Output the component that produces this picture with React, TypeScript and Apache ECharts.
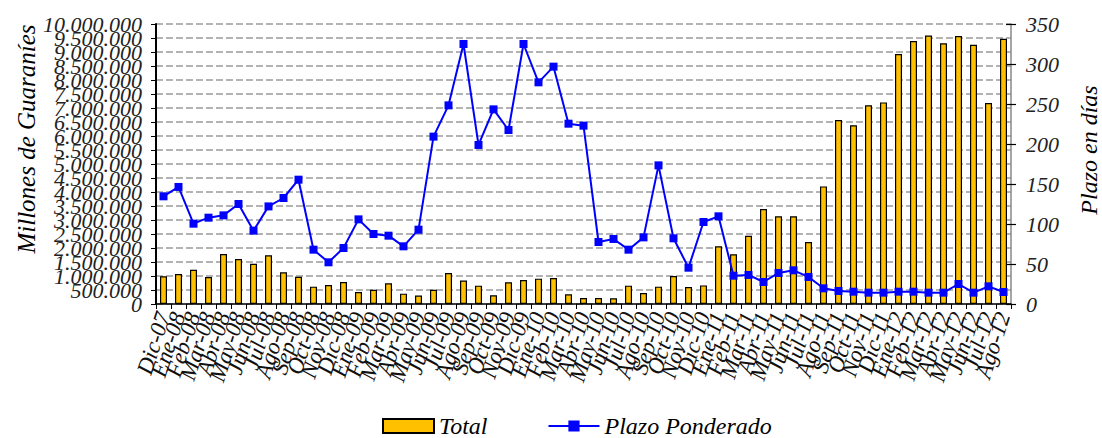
import React, { useEffect, useRef } from "react";
import * as echarts from "echarts";

const categories = [
  "Dic-07",
  "Ene-08", "Feb-08", "Mar-08", "Abr-08", "May-08", "Jun-08", "Jul-08", "Ago-08", "Sep-08", "Oct-08", "Nov-08", "Dic-08",
  "Ene-09", "Feb-09", "Mar-09", "Abr-09", "May-09", "Jun-09", "Jul-09", "Ago-09", "Sep-09", "Oct-09", "Nov-09", "Dic-09",
  "Ene-10", "Feb-10", "Mar-10", "Abr-10", "May-10", "Jun-10", "Jul-10", "Ago-10", "Sep-10", "Oct-10", "Nov-10", "Dic-10",
  "Ene-11", "Feb-11", "Mar-11", "Abr-11", "May-11", "Jun-11", "Jul-11", "Ago-11", "Sep-11", "Oct-11", "Nov-11", "Dic-11",
  "Ene-12", "Feb-12", "Mar-12", "Abr-12", "May-12", "Jun-12", "Jul-12", "Ago-12",
];

const totalValues = [
  990000,
  1070000, 1225000, 965000, 1785000, 1605000, 1440000, 1740000, 1130000, 975000, 620000, 680000, 785000,
  430000, 510000, 740000, 370000, 300000, 510000, 1105000, 835000, 655000, 310000, 775000, 855000,
  905000, 930000, 345000, 215000, 212000, 202000, 655000, 395000, 620000, 1000000, 605000, 665000,
  2060000, 1775000, 2440000, 3395000, 3130000, 3130000, 2215000, 4200000, 6570000, 6380000, 7095000, 7200000,
  8930000, 9395000, 9585000, 9310000, 9570000, 9260000, 7180000, 9475000,
];

const plazoValues = [
  134.6,
  146.3, 100.4, 107.9, 110.8, 125, 91.7, 122, 132.5, 155.4, 67.9, 52.1, 70,
  105.8, 87.5, 85.4, 72.1, 92.9, 209.2, 248.3, 325, 198.8, 243.3, 217.5, 325,
  277.1, 296.7, 225.4, 222.9, 77.5, 81.3, 67.9, 83.3, 173.3, 82.1, 45.4, 102.5,
  109.6, 35.4, 36.3, 27.5, 38.8, 42.1, 33.8, 19.6, 16.3, 15.4, 14.2, 14.2,
  15.4, 15.4, 14.2, 14.2, 25, 14.2, 22.1, 15,
];

const leftMax = 10000000;
const leftInterval = 500000;
const rightMax = 350;
const rightInterval = 50;

const FONT = "'Liberation Serif', 'DejaVu Serif', serif";

function fmtThousands(v: number): string {
  return String(Math.round(v)).replace(/\B(?=(\d{3})+(?!\d))/g, ".");
}

const leftLabelStyle = {
  margin: 14,
  fontFamily: FONT,
  fontStyle: "italic",
  fontSize: 22,
  color: "#222",
};

export default function App() {
  const ref = useRef<HTMLDivElement>(null);

  useEffect(() => {
    document.body.style.margin = "0";
    if (!ref.current) return;
    const chart = echarts.init(ref.current, undefined, { renderer: "svg" });
    chart.setOption({
      animation: false,
      backgroundColor: "#ffffff",
      textStyle: { fontFamily: FONT },
      grid: { left: 156, right: 91, top: 24, bottom: 134, containLabel: false },
      legend: {
        left: 382,
        top: 414,
        padding: 0,
        itemGap: 60,
        itemWidth: 51,
        itemHeight: 14,
        textStyle: { fontFamily: FONT, fontStyle: "italic", fontSize: 24, lineHeight: 24, color: "#000" },
        data: [
          { name: "Total", icon: "rect" },
          { name: "Plazo Ponderado" },
        ],
      },
      xAxis: {
        type: "category",
        data: categories,
        boundaryGap: true,
        axisLine: { lineStyle: { color: "#000", width: 1.5 } },
        axisTick: { show: true, length: 5, lineStyle: { color: "#000" } },
        axisLabel: {
          interval: 0,
          rotate: 72,
          margin: 9,
          fontFamily: FONT,
          fontStyle: "italic",
          fontSize: 23,
          color: "#111",
        },
      },
      yAxis: [
        {
          // left axis: labels at whole millions
          type: "value",
          position: "left",
          min: 0,
          max: leftMax,
          interval: leftInterval * 2,
          axisLine: { show: true, lineStyle: { color: "#000", width: 2 } },
          axisTick: { show: true, length: 5, lineStyle: { color: "#000" } },
          splitLine: { show: false },
          axisLabel: {
            ...leftLabelStyle,
            showMinLabel: true,
            showMaxLabel: true,
            formatter: (v: number) => fmtThousands(v),
          },
        },
        {
          type: "value",
          position: "right",
          min: 0,
          max: rightMax,
          interval: rightInterval,
          axisLine: { show: true, lineStyle: { color: "#888", width: 1.5 } },
          axisTick: { show: true, length: 5, lineStyle: { color: "#000", width: 1.2 } },
          splitLine: { show: false },
          axisLabel: {
            margin: 15,
            showMinLabel: true,
            showMaxLabel: true,
            fontFamily: FONT,
            fontStyle: "italic",
            fontSize: 22,
            color: "#222",
          },
        },
        {
          type: "value",
          position: "right",
          min: 0,
          max: rightMax,
          interval: rightInterval,
          axisLine: { show: false },
          axisTick: { show: true, inside: true, length: 5, lineStyle: { color: "#000", width: 1.2 } },
          splitLine: { show: false },
          axisLabel: { show: false },
        },
        {
          // left axis: half-million labels, ticks and grid lines
          type: "value",
          position: "left",
          min: 0,
          max: leftMax,
          interval: leftInterval,
          axisLine: { show: false },
          axisTick: { show: true, length: 5, lineStyle: { color: "#000" } },
          splitLine: { show: true, lineStyle: { color: "#9a9a9a", width: 1.5, type: [7, 3] } },
          axisLabel: {
            ...leftLabelStyle,
            showMinLabel: false,
            showMaxLabel: false,
            formatter: (v: number) => (Math.round(v / leftInterval) % 2 === 1 ? fmtThousands(v) : ""),
          },
        },
      ],
      graphic: [
        {
          type: "text",
          x: 26,
          y: 139,
          rotation: Math.PI / 2,
          style: {
            text: "Millones de Guaraníes",
            fontFamily: FONT,
            fontStyle: "italic",
            fontSize: 25,
            fill: "#000",
            align: "center",
            verticalAlign: "middle",
          },
        },
        {
          type: "text",
          x: 1089,
          y: 150,
          rotation: Math.PI / 2,
          style: {
            text: "Plazo en días",
            fontFamily: FONT,
            fontStyle: "italic",
            fontSize: 24,
            fill: "#000",
            align: "center",
            verticalAlign: "middle",
          },
        },
      ],
      series: [
        {
          name: "Total",
          type: "bar",
          yAxisIndex: 0,
          data: totalValues,
          barWidth: 7,
          itemStyle: { color: "#FFC000", borderColor: "#000", borderWidth: 1.2 },
        },
        {
          name: "Plazo Ponderado",
          type: "line",
          yAxisIndex: 1,
          data: plazoValues,
          symbol: "rect",
          symbolSize: 8,
          lineStyle: { color: "#0000FF", width: 2 },
          itemStyle: { color: "#0000FF" },
          z: 5,
        },
      ],
    });
    return () => chart.dispose();
  }, []);

  return <div ref={ref} style={{ width: 1102, height: 438 }} />;
}
